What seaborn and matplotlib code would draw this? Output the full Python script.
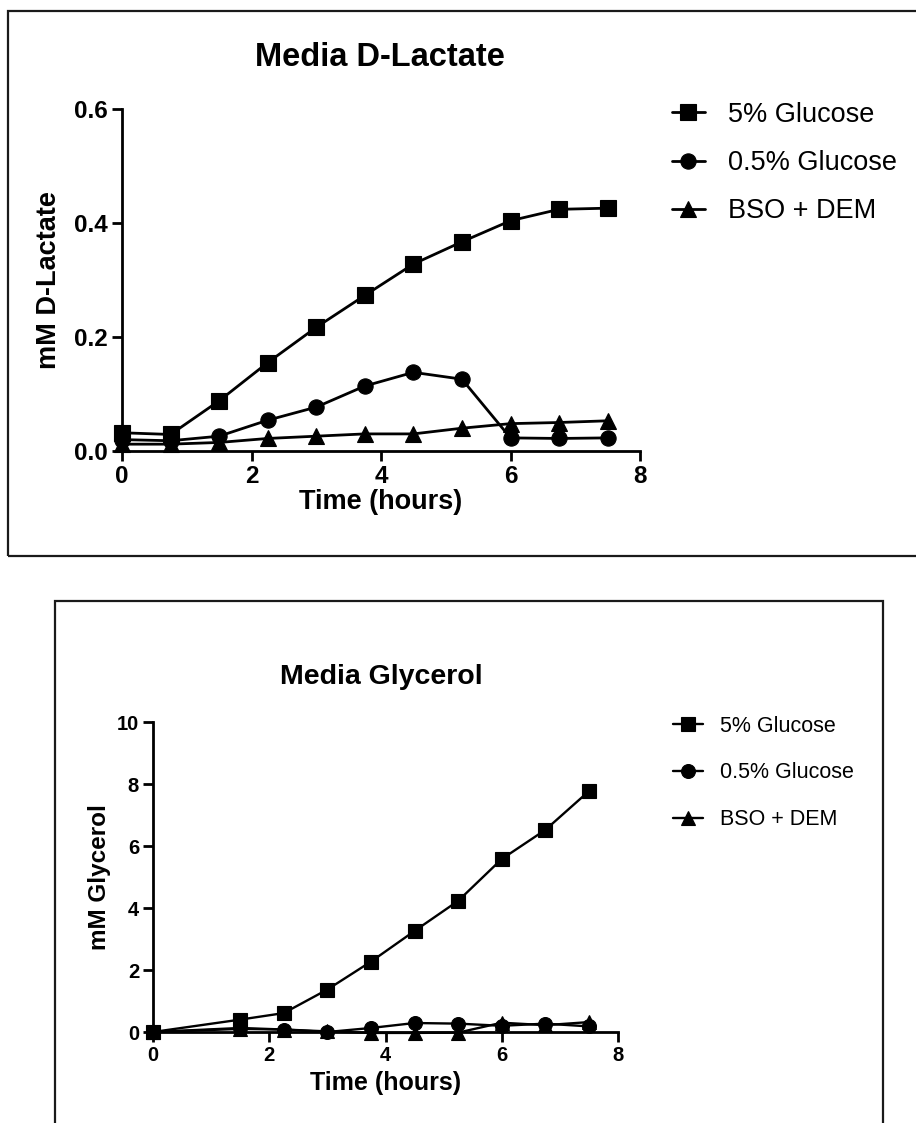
import numpy as np
import pandas as pd
import matplotlib
matplotlib.use("Agg")
import matplotlib.pyplot as plt
from matplotlib.patches import Rectangle
import seaborn as sns

# ---------------- data ----------------
series = ["5% Glucose", "0.5% Glucose", "BSO + DEM"]

time_lac = [0, 0.75, 1.5, 2.25, 3, 3.75, 4.5, 5.25, 6, 6.75, 7.5]
lac_5 = [0.032, 0.029, 0.088, 0.155, 0.217, 0.273, 0.328, 0.367, 0.404, 0.424, 0.426]
lac_05 = [0.020, 0.018, 0.026, 0.054, 0.077, 0.114, 0.138, 0.126, 0.023, 0.022, 0.023]
lac_bso = [0.012, 0.012, 0.015, 0.022, 0.026, 0.030, 0.030, 0.040, 0.048, 0.050, 0.053]

time_gly = [0, 1.5, 2.25, 3, 3.75, 4.5, 5.25, 6, 6.75, 7.5]
gly_5 = [0.0, 0.40, 0.61, 1.37, 2.27, 3.26, 4.23, 5.58, 6.52, 7.77]
gly_05 = [0.0, 0.13, 0.08, 0.0, 0.13, 0.29, 0.27, 0.20, 0.27, 0.18]
gly_bso = [0.0, 0.10, 0.08, 0.02, -0.03, -0.03, -0.02, 0.30, 0.22, 0.32]

lac_yticks = [0.0, 0.2, 0.4, 0.6]
gly_yticks = [0, 2, 4, 6, 8, 10]
xticks = [0, 2, 4, 6, 8]

# ---------------- style ----------------
sns.set_theme(style="ticks")
plt.rcParams["font.family"] = ["Liberation Sans", "DejaVu Sans"]
plt.rcParams["text.color"] = "black"
plt.rcParams["axes.labelcolor"] = "black"
plt.rcParams["xtick.color"] = "black"
plt.rcParams["ytick.color"] = "black"

W, H = 916, 1123
fig = plt.figure(figsize=(W / 100, H / 100), dpi=100)
fig.patch.set_facecolor("white")

def fx(px):
    return px / W

def fy(py):
    return 1 - py / H

markers = {"5% Glucose": "s", "0.5% Glucose": "o", "BSO + DEM": "^"}
palette = {s: "black" for s in series}


def panel(ax, time, vals, lw, ms, tick_fs):
    df = pd.DataFrame({
        "Time": np.tile(time, len(series)),
        "Value": np.concatenate(vals),
        "Series": np.repeat(series, len(time)),
    })
    sns.lineplot(data=df, x="Time", y="Value", hue="Series", style="Series",
                 hue_order=series, style_order=series, markers=markers,
                 dashes=False, palette=palette, linewidth=lw, markersize=ms,
                 markeredgecolor="black", markeredgewidth=0.8, clip_on=False,
                 estimator=None, sort=False, ax=ax, zorder=5)
    sns.despine(ax=ax)
    for sp in ("left", "bottom"):
        ax.spines[sp].set_linewidth(2.0)
        ax.spines[sp].set_color("black")
    ax.tick_params(axis="both", width=2.0, length=7, color="black",
                   labelsize=tick_fs, labelcolor="black", pad=3)
    ax.set_xlim(0, 8)
    ax.set_xticks(xticks)
    ax.set_facecolor("white")


# ---------------- boxes ----------------
fig.patches.append(Rectangle((fx(8), fy(556)), 1.0, (556 - 11) / H,
                             transform=fig.transFigure, fill=False,
                             lw=1.6, ec="#1a1a1a", zorder=0))
fig.patches.append(Rectangle((fx(55), -0.05), (883 - 55) / W, 0.05 + fy(601),
                             transform=fig.transFigure, fill=False,
                             lw=1.6, ec="#1a1a1a", zorder=0))

# ---------------- top panel ----------------
ax1 = fig.add_axes([fx(122), fy(451), (640 - 122) / W, (451 - 109) / H])
panel(ax1, time_lac, [lac_5, lac_05, lac_bso], lw=2.0, ms=11, tick_fs=17.5)
ax1.set_ylim(0, 0.6)
ax1.set_yticks(lac_yticks)
ax1.set_yticklabels([f"{v:.1f}" for v in lac_yticks])
ax1.set_xlabel("Time (hours)", fontsize=19.5, fontweight="bold", color="black")
ax1.set_ylabel("mM D-Lactate", fontsize=19.5, fontweight="bold", color="black")
ax1.yaxis.set_label_coords(-0.115, 0.5)
ax1.xaxis.set_label_coords(0.5, -0.11)
for t in ax1.get_xticklabels() + ax1.get_yticklabels():
    t.set_fontweight("bold")
h, l = ax1.get_legend_handles_labels()
leg1 = ax1.legend(h, l, loc="center left", bbox_to_anchor=(fx(672), fy(163)),
                  bbox_transform=fig.transFigure, frameon=False, fontsize=19.5,
                  handlelength=1.2, handletextpad=0.85, labelspacing=0.82,
                  borderpad=0, borderaxespad=0)
for t in leg1.get_texts():
    t.set_color("black")
fig.text(fx(380), fy(57), "Media D-Lactate", ha="center", va="center",
         fontsize=23.5, fontweight="bold", color="black")

# ---------------- bottom panel ----------------
ax2 = fig.add_axes([fx(153), fy(1032), (618 - 153) / W, (1032 - 722) / H])
panel(ax2, time_gly, [gly_5, gly_05, gly_bso], lw=1.7, ms=10, tick_fs=14.5)
ax2.set_ylim(0, 10)
ax2.set_yticks(gly_yticks)
ax2.set_xlabel("Time (hours)", fontsize=18, fontweight="bold", color="black")
ax2.set_ylabel("mM Glycerol", fontsize=17.5, fontweight="bold", color="black")
ax2.yaxis.set_label_coords(-0.09, 0.5)
ax2.xaxis.set_label_coords(0.5, -0.125)
for t in ax2.get_xticklabels() + ax2.get_yticklabels():
    t.set_fontweight("bold")
h, l = ax2.get_legend_handles_labels()
leg2 = ax2.legend(h, l, loc="center left", bbox_to_anchor=(fx(673), fy(773)),
                  bbox_transform=fig.transFigure, frameon=False, fontsize=15.5,
                  handlelength=1.4, handletextpad=0.8, labelspacing=1.2,
                  borderpad=0, borderaxespad=0)
for t in leg2.get_texts():
    t.set_color("black")
fig.text(fx(381), fy(677), "Media Glycerol", ha="center", va="center",
         fontsize=20.5, fontweight="bold", color="black")

fig.savefig("out.png", dpi=100)
